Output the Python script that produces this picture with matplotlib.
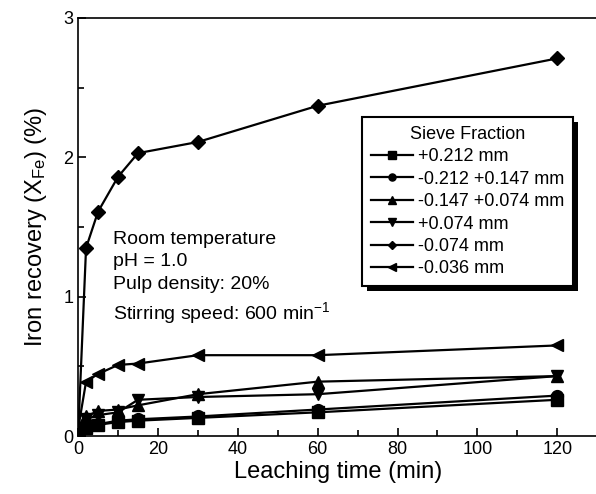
import matplotlib
matplotlib.use("Agg")
import matplotlib.pyplot as plt
from matplotlib.patches import Rectangle

plt.rcParams['font.family'] = ['Liberation Sans', 'DejaVu Sans']
plt.rcParams['mathtext.default'] = 'regular'

# leaching time (min)
time = [0, 2, 5, 10, 15, 30, 60, 120]

# iron recovery (%) for each sieve fraction
plus_212 = [0.02, 0.06, 0.08, 0.10, 0.11, 0.13, 0.17, 0.26]
minus_212_plus_147 = [0.02, 0.07, 0.085, 0.11, 0.12, 0.14, 0.19, 0.29]
minus_147_plus_074 = [0.02, 0.14, 0.18, 0.19, 0.22, 0.30, 0.39, 0.43]
plus_074 = [0.02, 0.12, 0.15, 0.17, 0.26, 0.28, 0.30, 0.43]
minus_074 = [0.0, 1.35, 1.61, 1.86, 2.03, 2.11, 2.37, 2.71]
minus_036 = [0.05, 0.39, 0.445, 0.51, 0.52, 0.58, 0.58, 0.65]

labels = ['+0.212 mm', '-0.212 +0.147 mm', '-0.147 +0.074 mm',
          '+0.074 mm', '-0.074 mm', '-0.036 mm']
markers = ['s', 'o', '^', 'v', 'D', '<']
series = [plus_212, minus_212_plus_147, minus_147_plus_074,
          plus_074, minus_074, minus_036]

fig = plt.figure(figsize=(5.96, 4.94), dpi=100)
ax = fig.add_axes([0.131, 0.1174, 0.871, 0.8462])

for vals, m, lab in zip(series, markers, labels):
    ms = 7.5 if m == 'D' else 8.5
    ax.plot(time, vals, color='black', marker=m, markersize=ms,
            linewidth=1.6, label=lab)

ax.set_xlim(0, 130)
ax.set_ylim(0, 3)
ax.set_xticks([0, 20, 40, 60, 80, 100, 120])
ax.set_xticks(range(10, 130, 20), minor=True)
ax.set_yticks([0, 1, 2, 3])
ax.set_yticks([0.5, 1.5, 2.5], minor=True)
ax.tick_params(direction='in', labelsize=13, width=1.2)
ax.tick_params(which='major', length=6)
ax.tick_params(which='minor', direction='in', length=4, width=1.2)
for s in ax.spines.values():
    s.set_linewidth(1.2)

ax.set_xlabel('Leaching time (min)', fontsize=17, labelpad=2)
ax.set_ylabel('Iron recovery (X$_{Fe}$) (%)', fontsize=17, labelpad=10)

ax.text(8.7, 1.47, 'Room temperature\npH = 1.0\nPulp density: 20%\n'
        'Stirring speed: 600 min$^{-1}$',
        fontsize=14, va='top', ha='left', linespacing=1.4)

leg = ax.legend(loc='upper left', bbox_to_anchor=(0.53, 0.785),
                title='Sieve Fraction', fontsize=13, title_fontsize=13,
                frameon=True, fancybox=False, edgecolor='black',
                facecolor='white', framealpha=1,
                handlelength=2.3, handletextpad=0.3, labelspacing=0.3,
                markerscale=0.6, borderpad=0.5)
leg.get_frame().set_linewidth(1.5)
leg.set_zorder(6)

# solid black shadow behind the legend box
fig.canvas.draw()
bb = leg.get_window_extent()
shadow = Rectangle((bb.x0 + 5, bb.y0 - 5), bb.width, bb.height,
                   transform=None, facecolor='black', edgecolor='none',
                   zorder=5.5)
ax.add_artist(shadow)

fig.savefig('out.png', dpi=100)
